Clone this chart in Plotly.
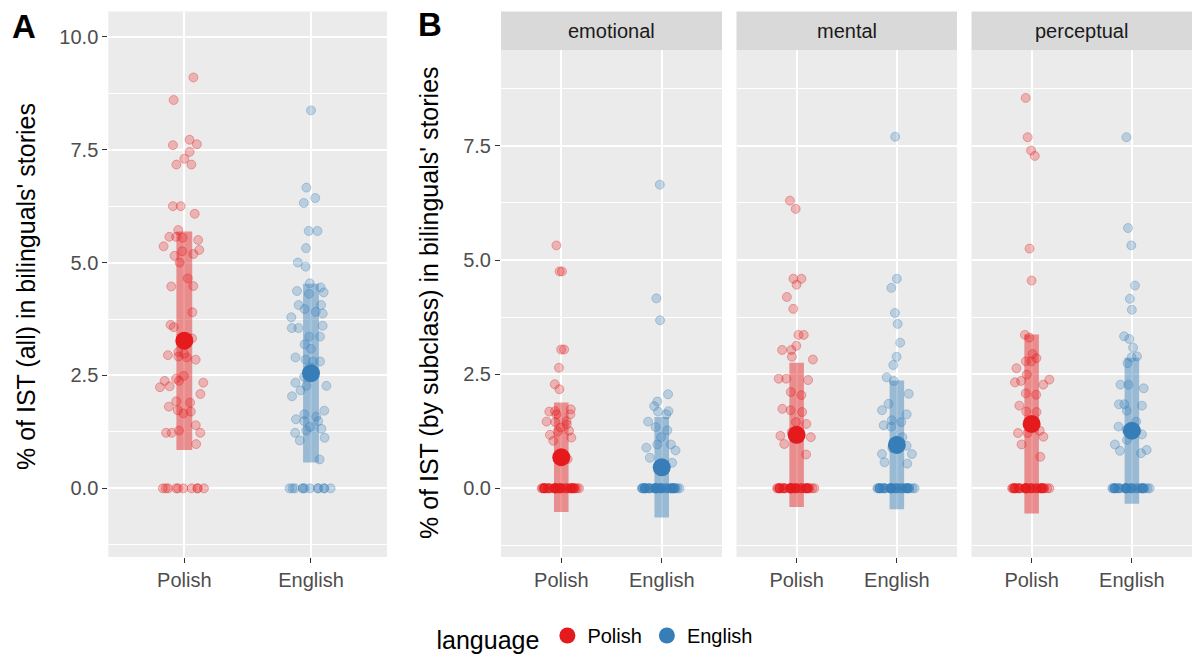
import plotly.graph_objects as go

# ---------------- data ----------------
languages = ["Polish", "English"]
subclasses = ["emotional", "mental", "perceptual"]

# Panel A: % of IST (all)
all_polish_nonzero = [9.1, 8.6, 7.72, 7.62, 7.6, 7.45, 7.3, 7.17, 7.17, 6.25, 6.25, 6.08,
                      5.72, 5.57, 5.57, 5.55, 5.5, 5.36, 5.28, 5.25, 5.19, 5.15, 5.0, 4.65,
                      4.48, 4.47, 3.9, 3.62, 3.57, 3.35, 3.32, 3.02, 2.98, 2.95, 2.92, 2.9,
                      2.85, 2.49, 2.43, 2.38, 2.38, 2.34, 2.26, 2.24, 2.09, 1.93, 1.9, 1.81,
                      1.73, 1.7, 1.66, 1.4, 1.28, 1.23, 1.23, 1.23, 0.98]
all_polish_zero_count = 10
all_english_nonzero = [8.37, 6.66, 6.43, 6.32, 5.7, 5.7, 5.32, 5.0, 4.91, 4.54, 4.45, 4.37,
                       4.34, 4.31, 4.06, 4.06, 3.97, 3.91, 3.87, 3.79, 3.6, 3.55, 3.55, 3.36,
                       3.36, 3.19, 3.09, 2.9, 2.85, 2.81, 2.81, 2.68, 2.47, 2.34, 2.27, 2.27,
                       2.17, 2.04, 1.72, 1.64, 1.59, 1.53, 1.49, 1.49, 1.36, 1.32, 1.28, 1.23,
                       1.12, 1.06, 0.64]
all_english_zero_count = 12

# Panel B: % of IST by subclass
emotional_polish_nonzero = [5.32, 4.75, 4.75, 3.04, 3.04, 2.64, 2.28, 2.17, 1.73, 1.69, 1.68,
                            1.62, 1.62, 1.47, 1.46, 1.45, 1.40, 1.33, 1.26, 1.24, 1.17, 1.11,
                            1.04, 0.64]
emotional_polish_zero_count = 43
emotional_english_nonzero = [6.65, 4.16, 3.68, 2.06, 1.90, 1.80, 1.69, 1.68, 1.62, 1.46, 1.34,
                             1.27, 1.12, 0.96, 0.96, 0.89, 0.83, 0.67, 0.56]
emotional_english_zero_count = 44
mental_polish_nonzero = [6.30, 6.12, 4.59, 4.59, 4.46, 4.19, 3.93, 3.36, 3.36, 3.12, 3.03, 3.03,
                         2.88, 2.82, 2.40, 2.40, 2.37, 2.11, 2.04, 1.74, 1.71, 1.67, 1.45, 1.41,
                         1.23, 1.15, 1.12, 0.97, 0.74]
mental_polish_zero_count = 38
mental_english_nonzero = [7.70, 4.59, 4.39, 3.84, 3.60, 3.19, 2.88, 2.70, 2.43, 2.35, 2.07,
                          1.85, 1.71, 1.62, 1.49, 1.45, 1.38, 1.35, 1.12, 1.04, 0.93, 0.88,
                          0.75, 0.75, 0.57, 0.54]
mental_english_zero_count = 37
perceptual_polish_nonzero = [8.55, 7.69, 7.40, 7.28, 5.25, 4.55, 3.36, 3.30, 2.94, 2.85, 2.78,
                             2.78, 2.63, 2.49, 2.38, 2.35, 2.32, 2.27, 2.08, 2.05, 1.81, 1.68,
                             1.67, 1.46, 1.26, 1.21, 1.21, 1.13, 0.96, 0.69]
perceptual_polish_zero_count = 37
perceptual_english_nonzero = [7.69, 5.70, 5.32, 4.44, 4.15, 3.91, 3.33, 3.27, 3.08, 2.89, 2.87,
                              2.74, 2.27, 2.27, 2.19, 1.84, 1.84, 1.81, 1.70, 1.46, 1.35, 1.28,
                              1.26, 1.21, 1.18, 1.06, 0.96, 0.84, 0.82, 0.77]
perceptual_english_zero_count = 33

# Means and standard deviations (bars = mean +/- SD), order: Polish, English
all_means = [3.27, 2.55]
all_sds = [2.42, 1.98]
emotional_means = [0.68, 0.46]
emotional_sds = [1.20, 1.10]
mental_means = [1.17, 0.95]
mental_sds = [1.58, 1.41]
perceptual_means = [1.41, 1.26]
perceptual_sds = [1.96, 1.60]

y_ticks_a = [0.0, 2.5, 5.0, 7.5, 10.0]
y_ticks_b = [0.0, 2.5, 5.0, 7.5]

# ---------------- styling ----------------
FONT = 'Arial, "Liberation Sans", sans-serif'
RGB = {"Polish": (228, 26, 28), "English": (55, 126, 184)}
W, H = 1192, 659


def rgba(lang, a):
    r, g, b = RGB[lang]
    return f"rgba({r},{g},{b},{a})"


panels = [
    # (axis suffix, {lang: (nonzero values, number of zeros)}, means, sds, bar width)
    ("", {"Polish": (all_polish_nonzero, all_polish_zero_count),
          "English": (all_english_nonzero, all_english_zero_count)},
     all_means, all_sds, 0.125),
    ("2", {"Polish": (emotional_polish_nonzero, emotional_polish_zero_count),
           "English": (emotional_english_nonzero, emotional_english_zero_count)},
     emotional_means, emotional_sds, 0.145),
    ("3", {"Polish": (mental_polish_nonzero, mental_polish_zero_count),
           "English": (mental_english_nonzero, mental_english_zero_count)},
     mental_means, mental_sds, 0.145),
    ("4", {"Polish": (perceptual_polish_nonzero, perceptual_polish_zero_count),
           "English": (perceptual_english_nonzero, perceptual_english_zero_count)},
     perceptual_means, perceptual_sds, 0.145),
]

fig = go.Figure()


def add_points(values, lang, xa, ya):
    fig.add_trace(go.Box(
        x=[lang] * len(values), y=values, boxpoints="all", jitter=1,
        pointpos=0, width=0.4, whiskerwidth=0,
        fillcolor="rgba(0,0,0,0)", line=dict(width=0, color="rgba(0,0,0,0)"),
        marker=dict(size=9, color=rgba(lang, 0.27),
                    line=dict(width=1, color=rgba(lang, 0.33))),
        xaxis=xa, yaxis=ya, showlegend=False, hoverinfo="skip"))


for pi, (sfx, vals, means, sds, bw) in enumerate(panels):
    xa, ya = "x" + sfx, "y" + sfx
    for li, lang in enumerate(languages):
        nonzero, nzero = vals[lang]
        # mean +/- SD bar
        fig.add_trace(go.Bar(
            x=[lang], y=[2 * sds[li]], base=[means[li] - sds[li]], width=bw,
            marker=dict(color=rgba(lang, 0.45), line=dict(width=0)),
            xaxis=xa, yaxis=ya, showlegend=False, hoverinfo="skip"))
        # jittered raw points (zeros and non-zeros jittered separately)
        add_points([0.0] * nzero, lang, xa, ya)
        add_points(nonzero, lang, xa, ya)
        # mean dot
        fig.add_trace(go.Scatter(
            x=[lang], y=[means[li]], mode="markers",
            marker=dict(size=18, color=rgba(lang, 1.0)),
            name=lang, legendgroup=lang, showlegend=(pi == 0),
            xaxis=xa, yaxis=ya, hoverinfo="skip"))

# ---------------- axes ----------------
y_bot = 1 - 557 / H
y_top_a = 1 - 11.5 / H
y_top_b = 1 - 50 / H

x_domains = [
    [108.3 / W, 387 / W],
    [501 / W, 722 / W],
    [736.5 / W, 957 / W],
    [971.5 / W, 1192 / W],
]

xcommon = dict(
    type="category", categoryorder="array", categoryarray=languages,
    range=[-0.6, 1.6], showgrid=True, gridcolor="white", gridwidth=1.8,
    ticks="outside", ticklen=5, tickwidth=1.1, tickcolor="#333333",
    tickfont=dict(family=FONT, size=20, color="#4D4D4D"),
    showline=False, zeroline=False, fixedrange=True,
)

ycommon = dict(
    showgrid=True, gridcolor="white", gridwidth=1.8, zeroline=False,
    tickformat=".1f", ticks="outside", ticklen=5, tickwidth=1.1, tickcolor="#333333",
    tickfont=dict(family=FONT, size=20, color="#4D4D4D"),
    minor=dict(dtick=1.25, tick0=0, showgrid=True, gridcolor="white", gridwidth=0.8,
               ticks=""),
    showline=False, fixedrange=True,
)

layout_axes = {}
for i, dom in enumerate(x_domains):
    sfx = "" if i == 0 else str(i + 1)
    layout_axes["xaxis" + sfx] = dict(xcommon, domain=dom, anchor="y" + sfx)
    if i == 0:
        layout_axes["yaxis"] = dict(ycommon, domain=[y_bot, y_top_a], anchor="x",
                                    range=[-1.52, 10.56], tickvals=y_ticks_a)
    elif i == 1:
        layout_axes["yaxis2"] = dict(ycommon, domain=[y_bot, y_top_b], anchor="x2",
                                     range=[-1.505, 9.6], tickvals=y_ticks_b)
    else:
        layout_axes["yaxis" + sfx] = dict(ycommon, domain=[y_bot, y_top_b], anchor="x" + sfx,
                                          matches="y2", range=[-1.505, 9.6],
                                          tickvals=y_ticks_b, showticklabels=False,
                                          ticks="")

# ---------------- strips, titles, tags ----------------
shapes = []
annotations = []
for i, name in enumerate(subclasses):
    xr = f"x{i + 2} domain"
    shapes.append(dict(type="rect", xref=xr, yref="paper", x0=0, x1=1,
                       y0=y_top_b, y1=y_top_a, fillcolor="#D9D9D9", line=dict(width=0),
                       layer="below"))
    annotations.append(dict(text=name, xref=xr, yref="paper", x=0.5,
                            y=(y_top_b + y_top_a) / 2, showarrow=False,
                            xanchor="center", yanchor="middle",
                            font=dict(family=FONT, size=20, color="#1A1A1A")))

annotations += [
    dict(text="% of IST (all) in bilinguals' stories", textangle=-90,
         xref="paper", yref="paper", x=26 / W, y=1 - 287 / H, showarrow=False,
         xanchor="center", yanchor="middle",
         font=dict(family=FONT, size=25, color="black")),
    dict(text="% of IST (by subclass) in bilinguals' stories", textangle=-90,
         xref="paper", yref="paper", x=429 / W, y=1 - 303 / H, showarrow=False,
         xanchor="center", yanchor="middle",
         font=dict(family=FONT, size=25, color="black")),
    dict(text="<b>A</b>", xref="paper", yref="paper", x=24 / W, y=1 - 27 / H,
         showarrow=False, xanchor="center", yanchor="middle",
         font=dict(family=FONT, size=33, color="black")),
    dict(text="<b>B</b>", xref="paper", yref="paper", x=430 / W, y=1 - 25 / H,
         showarrow=False, xanchor="center", yanchor="middle",
         font=dict(family=FONT, size=33, color="black")),
]

fig.update_layout(
    width=W, height=H,
    margin=dict(l=0, r=0, t=0, b=0),
    paper_bgcolor="white", plot_bgcolor="#EBEBEB",
    barmode="overlay", boxmode="overlay",
    font=dict(family=FONT, color="#1A1A1A"),
    shapes=shapes, annotations=annotations,
    legend=dict(orientation="h", x=0.5, xanchor="center", y=0.0, yanchor="bottom",
                title=dict(text="language", side="left",
                           font=dict(family=FONT, size=25, color="black")),
                font=dict(family=FONT, size=20, color="black"),
                itemsizing="trace", bgcolor="rgba(0,0,0,0)"),
    **layout_axes,
)

fig.write_html("out.html")
